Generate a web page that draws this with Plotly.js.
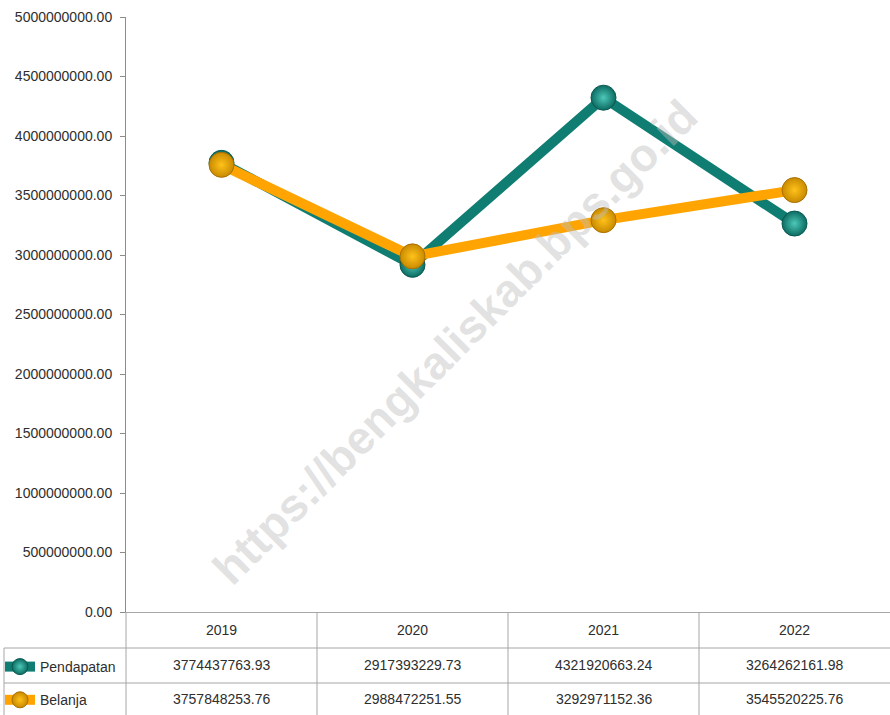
<!DOCTYPE html>
<html>
<head>
<meta charset="utf-8">
<script src="https://cdn.plot.ly/plotly-3.0.1.min.js"></script>
<style>html,body{margin:0;padding:0;background:#fff}#chart{width:890px;height:715px}</style>
</head>
<body>
<div id="chart"></div>
<script>
const years = ["2019", "2020", "2021", "2022"];
const pendapatan = [3774437763.93, 2917393229.73, 4321920663.24, 3264262161.98];
const belanja = [3757848253.76, 2988472251.55, 3292971152.36, 3545520225.76];
const seriesNames = ["Pendapatan", "Belanja"];
const yTicks = [0, 500000000, 1000000000, 1500000000, 2000000000, 2500000000, 3000000000, 3500000000, 4000000000, 4500000000, 5000000000];

const FONT = '"Liberation Sans Narrow", "Arial Narrow", "Liberation Sans", Arial, sans-serif';
const TEXT = '#2e2e2e';
const GRID = '#a6a6a6';

const teal = '#0f7d71';
const orange = '#ffa400';

const traces = [
  {
    x: years, y: pendapatan, name: seriesNames[0], type: 'scatter', mode: 'lines+markers',
    line: {color: teal, width: 10},
    marker: {size: 25, color: '#0c6b62', line: {color: '#0a5a52', width: 1},
             gradient: {type: 'radial', color: '#4cc8b8'}},
    legendgroup: 'a', cliponaxis: false
  },
  {
    x: years, y: belanja, name: seriesNames[1], type: 'scatter', mode: 'lines+markers',
    line: {color: orange, width: 10},
    marker: {size: 25, color: '#c98a00', line: {color: '#a87000', width: 1},
             gradient: {type: 'radial', color: '#ffc21a'}},
    legendgroup: 'b', cliponaxis: false
  }
];

const H = 715, T = 17, B = 103, L = 126, W = 890;
const ph = H - T - B, pw = W - L;
const py = px => (H - B - px) / ph;
const pxX = px => (px - L) / pw;

const cellFont = {family: FONT, size: 14, color: TEXT};
const annotations = [];
years.forEach((yr, i) => {
  annotations.push({x: i, xref: 'x', y: py(630), yref: 'paper', yanchor: 'middle', xanchor: 'center', text: yr, showarrow: false, font: cellFont});
  annotations.push({x: i, xref: 'x', y: py(665.5), yref: 'paper', yanchor: 'middle', xanchor: 'center', text: pendapatan[i].toFixed(2), showarrow: false, font: cellFont});
  annotations.push({x: i, xref: 'x', y: py(699), yref: 'paper', yanchor: 'middle', xanchor: 'center', text: belanja[i].toFixed(2), showarrow: false, font: cellFont});
});
annotations.push({x: pxX(455), y: py(342), xref: 'paper', yref: 'paper', xanchor: 'center', yanchor: 'middle', text: 'https://bengkaliskab.bps.go.id',
  showarrow: false, textangle: -45, font: {family: '"Liberation Sans", Arial, sans-serif', size: 46, color: 'rgba(190,190,190,0.45)', weight: 'bold'}});

const shapes = [];
[648, 683].forEach(p => shapes.push({type: 'line', xref: 'paper', yref: 'paper', x0: pxX(4), x1: 1, y0: py(p), y1: py(p), line: {color: GRID, width: 1}}));
shapes.push({type: 'line', xref: 'paper', yref: 'paper', x0: 0, x1: 0, y0: 0, y1: py(715), line: {color: GRID, width: 1}});
shapes.push({type: 'line', xref: 'paper', yref: 'paper', x0: pxX(4), x1: pxX(4), y0: py(648), y1: py(715), line: {color: GRID, width: 1}});
[0.5, 1.5, 2.5].forEach(v => shapes.push({type: 'line', xref: 'x', yref: 'paper', x0: v, x1: v, y0: 0, y1: py(715), line: {color: GRID, width: 1}}));

const layout = {
  width: W, height: H,
  margin: {l: L, r: 0, t: T, b: B, autoexpand: false},
  paper_bgcolor: '#fff', plot_bgcolor: '#fff',
  showlegend: true,
  legend: {x: pxX(0), xanchor: 'left', y: py(651), yanchor: 'top', orientation: 'v', tracegroupgap: 12,
    font: {family: FONT, size: 14, color: TEXT}, bgcolor: 'rgba(0,0,0,0)', itemwidth: 30},
  xaxis: {type: 'category', range: [-0.5, 3.5], showticklabels: false, ticks: '', showgrid: false,
    zeroline: false, showline: true, linecolor: GRID, linewidth: 1, fixedrange: true},
  yaxis: {range: [0, 5000000000], tickvals: yTicks, tickformat: '.2f', showgrid: false, zeroline: false,
    showline: true, linecolor: '#8c8c8c', linewidth: 1, ticks: 'outside', ticklen: 5, tickcolor: '#8c8c8c',
    ticklabelstandoff: 5,
    tickfont: {family: FONT, size: 14, color: TEXT}, fixedrange: true},
  annotations: annotations,
  shapes: shapes
};

Plotly.newPlot('chart', traces, layout, {displayModeBar: false, staticPlot: true});
</script>
</body>
</html>
